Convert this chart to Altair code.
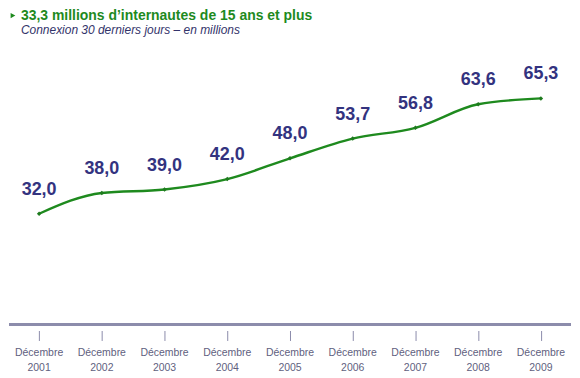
import altair as alt
import pandas as pd

title = "33,3 millions d’internautes de 15 ans et plus"
subtitle = "Connexion 30 derniers jours – en millions"
years = ["2001", "2002", "2003", "2004", "2005", "2006", "2007", "2008", "2009"]
values = [32.0, 38.0, 39.0, 42.0, 48.0, 53.7, 56.8, 63.6, 65.3]
labels = ["32,0", "38,0", "39,0", "42,0", "48,0", "53,7", "56,8", "63,6", "65,3"]
month = "Décembre"

df = pd.DataFrame({"year": years, "value": values, "label": labels, "month": [month] * len(years)})
tdf = pd.DataFrame({"title": [title], "subtitle": [subtitle]})

W, H = 564, 278

xs = alt.Scale(type="point", padding=0.48)
x = alt.X("year:O", scale=xs,
          axis=alt.Axis(title=None, domain=False, tickSize=10, offset=6,
                        tickColor="#8c8cab", tickWidth=1, labels=False))
y = alt.Y("value:Q", scale=alt.Scale(domain=[0, 80], nice=False, zero=True),
          axis=None)

base = alt.Chart(df).encode(x=x, y=y)

line = base.mark_line(color="#1e8a1e", strokeWidth=2.4, interpolate="monotone")
pts = base.mark_point(shape="diamond", filled=True, color="#1e7a1e", size=20, opacity=1)
txt = base.mark_text(dy=-24, font="Arial", fontSize=18, fontWeight="bold",
                     color="#33337f").encode(text="label:N")

lab_m = alt.Chart(df).mark_text(font="Arial", fontSize=10.5, color="#5f5f80").encode(
    x=alt.X("year:O", scale=xs), y=alt.value(H + 29), text="month:N")
lab_y = alt.Chart(df).mark_text(font="Arial", fontSize=10.5, color="#5f5f80").encode(
    x=alt.X("year:O", scale=xs), y=alt.value(H + 44), text="year:N")

axis_line = alt.Chart(df).mark_rule(color="#8c8cab", strokeWidth=2).encode(
    x=alt.value(0), x2=alt.value(W), y=alt.value(H))

bullet = alt.Chart(tdf).mark_point(
    shape="triangle-right", filled=True, color="#1e8a1e", size=30, opacity=1).encode(
    x=alt.value(4), y=alt.value(-32))
ttl = alt.Chart(tdf).mark_text(align="left", baseline="top", font="Arial", fontSize=14,
                               fontWeight="bold", color="#1e8a1e").encode(
    x=alt.value(12), y=alt.value(-39), text="title:N")
sub = alt.Chart(tdf).mark_text(align="left", baseline="top", font="Arial", fontSize=12,
                               fontStyle="italic", color="#33336a").encode(
    x=alt.value(12), y=alt.value(-23), text="subtitle:N")

chart = alt.layer(axis_line, line, pts, txt, lab_m, lab_y, bullet, ttl, sub).properties(
    width=W, height=H,
    padding={"left": 0, "top": 0, "right": 0, "bottom": 0},
).configure_view(stroke=None)

chart.save("out.html", embed_options={"renderer": "svg", "actions": False})
